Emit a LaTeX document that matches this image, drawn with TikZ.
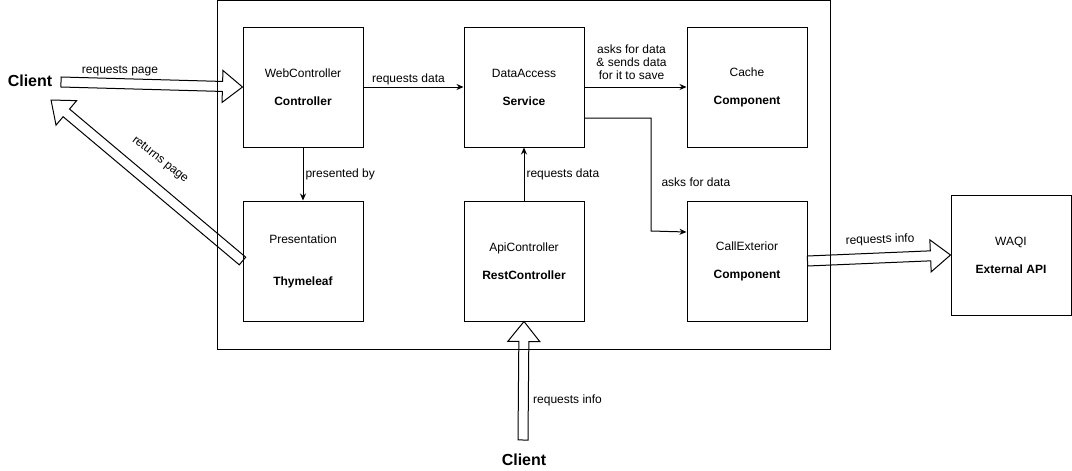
\documentclass[tikz,border=0pt]{standalone}
\usepackage{fontspec}
\setmainfont{Liberation Sans}
\usetikzlibrary{arrows.meta,calc,positioning}

\tikzset{
	comp/.style={draw, line width=1pt, minimum width=120pt, minimum height=120pt, align=center, inner sep=0pt},
	lbl/.style={inner sep=2pt},
	flow/.style={-{Stealth[length=7pt,width=6pt]}, line width=1pt},
	hollow/.style={draw, line width=1pt},
	client/.style={font=\fontsize{16}{18}\selectfont\bfseries}
}

% hollow block arrow from #1 (tail) to #2 (tip)
\newcommand{\hollowarrow}[2]{%
	\path[hollow] let \p1=($(#2)-(#1)$), \n1={atan2(\y1,\x1)}, \n2={veclen(\x1,\y1)} in
	[shift={(#1)}, rotate=\n1] (0,-5) -- ({\n2-20},-5) -- ({\n2-20},-16) -- (\n2,0)
	-- ({\n2-20},16) -- ({\n2-20},5) -- (0,5) -- cycle;
}

\begin{document}
\begin{tikzpicture}[x=1pt, y=-1pt, font=\fontsize{12}{14}\selectfont]
\useasboundingbox (0,0) rectangle (1072,471);

\node[draw, line width=1pt, minimum width=613pt, minimum height=349pt] (app) at (523.5,175) {};

\node[comp] (web) at (303,87) {WebController\\[14pt]\textbf{Controller}};
\node[comp, right=100pt of web] (data) {DataAccess\\[14pt]\textbf{Service}};
\node[comp, right=102pt of data] (cache) {Cache\\[14pt]\textbf{Component}};
\node[comp, below=53pt of web] (pres) {Presentation\\[28pt]\textbf{Thymeleaf}};
\node[comp, below=53pt of data] (api) {ApiController\\[14pt]\textbf{RestController}};
\node[comp, below=53pt of cache] (call) {CallExterior\\[14pt]\textbf{Component}};
\node[comp] (waqi) at (1011,255) {WAQI\\[14pt]\textbf{External API}};

\node[client] (clientL) at (30,81) {Client};
\node[client] (clientB) at (524,460) {Client};

\coordinate (pagetail) at (61,82);
\coordinate (pagetip) at (51,100);
\coordinate (infotail) at (523,440);

\path[flow]
(web) edge node[lbl, above, pos=0.45] {requests data} (data)
(data) edge node[lbl, above, align=center, yshift=5pt, xshift=-4pt] {asks for data\\[-1pt]\& sends data\\[-1pt]for it to save} (cache)
(web) edge node[lbl, right] {presented by} (pres)
(api) edge node[lbl, right] {requests data} (data)
;
\draw[flow] ($(data.east)+(0,31)$) -- (651,118) -- node[lbl, right, pos=0.57, xshift=8pt] {asks for data} (651,231) -- ($(call.west)+(0,-29)$);

\hollowarrow{pagetail}{web.west}
\hollowarrow{pres.west}{pagetip}
\hollowarrow{call.east}{waqi.west}
\hollowarrow{infotail}{api.south}

\node[lbl] (lreqpage) at (120,71) {requests page};
\node[lbl, rotate=-38] (lretpage) at (160,160) {returns page};
\node[lbl, rotate=2] (lreqinfo) at (880,240) {requests info};
\node[lbl, anchor=west] (lapiinfo) at (531,400) {requests info};
\end{tikzpicture}
\end{document}
